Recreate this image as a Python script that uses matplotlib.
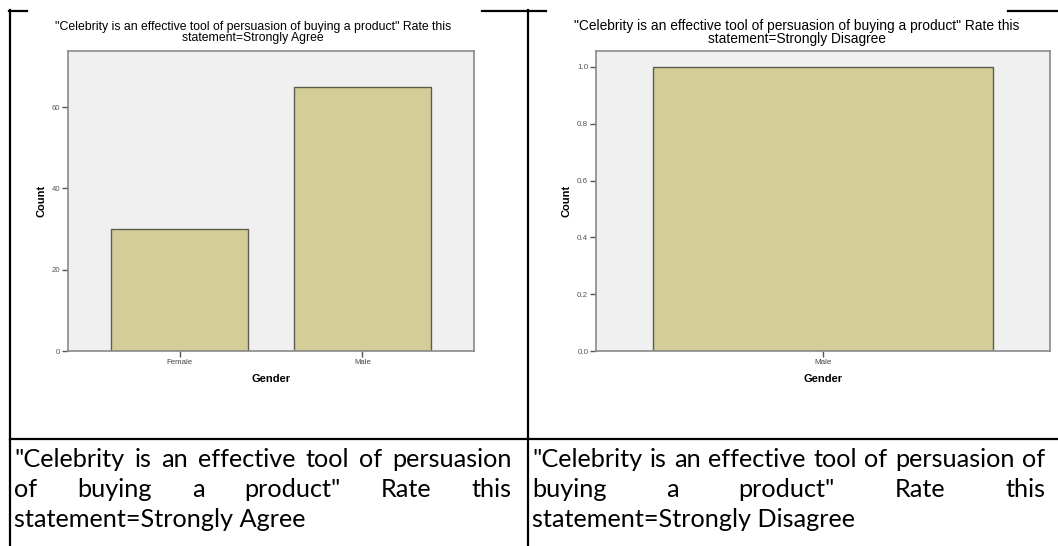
import matplotlib
matplotlib.use("Agg")
import matplotlib.pyplot as plt
from matplotlib.lines import Line2D
import matplotlib.ticker as ticker

# data
left_genders = ["Female", "Male"]
left_counts = [30, 65]
right_genders = ["Male"]
right_counts = [1]

left_title = "\"Celebrity is an effective tool of persuasion of buying a product\" Rate this\nstatement=Strongly Agree"
right_title = "\"Celebrity is an effective tool of persuasion of buying a product\" Rate this\nstatement=Strongly Disagree"

left_caption = [["\"Celebrity", "is", "an", "effective", "tool", "of", "persuasion"],
                ["of", "buying", "a", "product\"", "Rate", "this"],
                ["statement=Strongly Agree"]]
right_caption = [["\"Celebrity", "is", "an", "effective", "tool", "of", "persuasion", "of"],
                 ["buying", "a", "product\"", "Rate", "this"],
                 ["statement=Strongly Disagree"]]

W, H = 1058, 546
BAR = "#d3ce97"
EDGE = "#5e5c4c"
BG = "#f0f0f0"
SPINE = "#8a8a8a"

fig = plt.figure(figsize=(W / 100, H / 100), dpi=100)
fig.patch.set_facecolor("white")


def box(x0, y0, x1, y1):
    return [x0 / W, 1 - y1 / H, (x1 - x0) / W, (y1 - y0) / H]


def fx(x):
    return x / W


def fy(y):
    return 1 - y / H


def spss_bar(ax, cats, vals, ymax, xlim, yticks, fmt, tick_fs, lab_fs):
    ax.set_facecolor(BG)
    ax.bar(range(len(cats)), vals, width=0.75, color=BAR, edgecolor=EDGE, linewidth=1.0, zorder=2)
    ax.set_xlim(*xlim)
    ax.set_ylim(0, ymax)
    ax.set_xticks(range(len(cats)))
    ax.set_xticklabels(cats, fontsize=tick_fs, color="#444444", family="Liberation Sans")
    ax.set_yticks(yticks)
    ax.yaxis.set_major_formatter(ticker.FormatStrFormatter(fmt))
    for lab in ax.get_yticklabels():
        lab.set_fontsize(tick_fs)
        lab.set_color("#555555")
        lab.set_family("Liberation Sans")
    ax.tick_params(axis="both", direction="out", length=4, width=1, color="#555555", pad=1.5)
    for s in ax.spines.values():
        s.set_color(SPINE)
        s.set_linewidth(1.2)
    ax.set_xlabel("Gender", fontsize=lab_fs, fontweight="bold", family="Liberation Sans", labelpad=6)
    ax.set_ylabel("Count", fontsize=lab_fs, fontweight="bold", family="Liberation Sans", labelpad=4)


# left chart
axL = fig.add_axes(box(68, 51, 474, 351))
spss_bar(axL, left_genders, left_counts, 73.8, (-0.61, 1.61), [0, 20, 40, 60], "%d", 5.6, 8)
fig.text(fx(253), fy(32.5), left_title, ha="center", va="center", fontsize=8.8,
         family="Liberation Sans", linespacing=0.9)

# right chart
axR = fig.add_axes(box(596, 51, 1050, 351))
spss_bar(axR, right_genders, right_counts, 1.056, (-0.5, 0.5), [0, 0.2, 0.4, 0.6, 0.8, 1.0], "%.1f", 5.8, 8)
fig.text(fx(797), fy(32.5), right_title, ha="center", va="center", fontsize=9.9,
         family="Liberation Sans", linespacing=0.85)

# table borders
lw = 1.6
segs = [((9, 11), (27, 11)), ((482, 11), (546, 11)), ((1008, 11), (1058, 11)),
        ((10, 10), (10, 546)), ((528, 10), (528, 546)), ((10, 439), (1058, 439))]
for (x0, y0), (x1, y1) in segs:
    fig.add_artist(Line2D([fx(x0), fx(x1)], [fy(y0), fy(y1)], transform=fig.transFigure,
                          color="black", linewidth=lw))

# caption text, justified like the word document
renderer = fig.canvas.get_renderer()
cap_font = dict(family="Lato", fontsize=10, color="black")


def text_width(s):
    t = fig.text(0, 0, s, **cap_font)
    wd = t.get_window_extent(renderer).width
    t.remove()
    return wd


# size the caption font so the full right-hand first line fits the cell
cap_font["fontsize"] = 10 * 508 / text_width(" ".join(right_caption[0]))


def caption(lines, x0, x1, baselines):
    for i, words in enumerate(lines):
        y = fy(baselines[i])
        if len(words) == 1 or i == len(lines) - 1:
            fig.text(fx(x0), y, " ".join(words), va="baseline", ha="left", **cap_font)
            continue
        widths = [text_width(w) for w in words]
        gap = (x1 - x0 - sum(widths)) / (len(words) - 1)
        x = x0
        for w, wd in zip(words, widths):
            fig.text(fx(x), y, w, va="baseline", ha="left", **cap_font)
            x += wd + gap


caption(left_caption, 14, 512, [467, 497, 527])
caption(right_caption, 532, 1045, [467, 497, 527])

fig.savefig("out.png", dpi=100, facecolor="white")
